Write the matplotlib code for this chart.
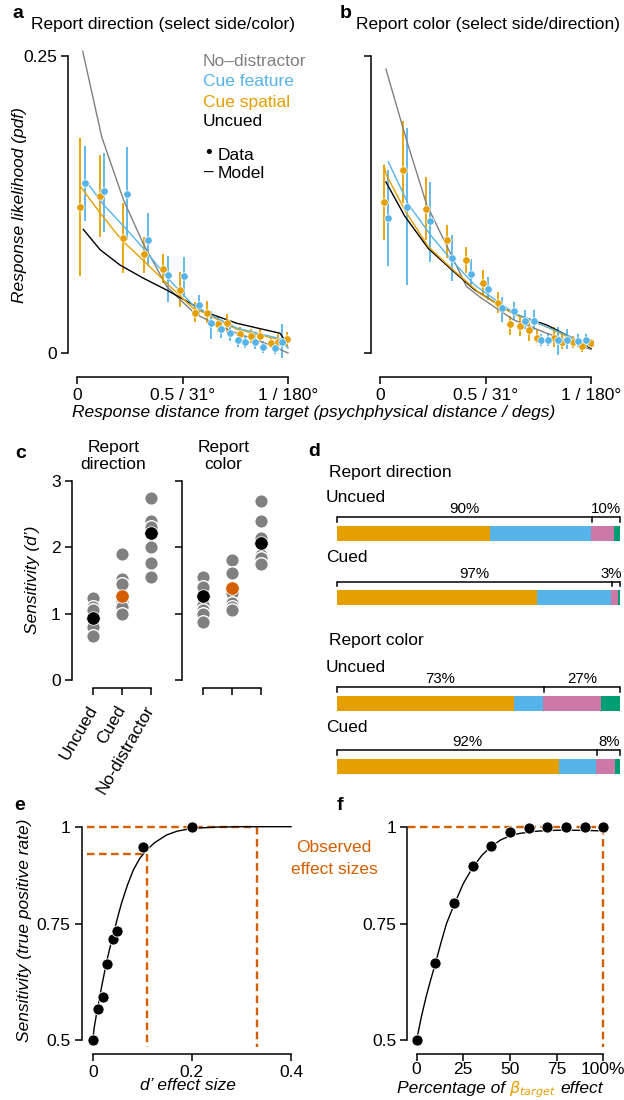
import numpy as np
import matplotlib
matplotlib.use("Agg")
import matplotlib.pyplot as plt

# ---------------- data ----------------
# panel a (report direction)
a_sp_x = [0.016, 0.107, 0.216, 0.318, 0.408, 0.49, 0.559, 0.615, 0.667, 0.709, 0.774, 0.823, 0.866, 0.918, 0.953, 0.997]
a_sp_y = [0.123, 0.132, 0.097, 0.083, 0.071, 0.053, 0.034, 0.034, 0.024, 0.025, 0.016, 0.014, 0.014, 0.008, 0.0095, 0.012]
a_sp_lo = [0.065, 0.098, 0.067, 0.067, 0.059, 0.039, 0.026, 0.025, 0.018, 0.018, 0.010, 0.008, 0.009, 0.004, 0.003, 0.006]
a_sp_hi = [0.181, 0.167, 0.126, 0.098, 0.083, 0.068, 0.043, 0.044, 0.031, 0.033, 0.022, 0.020, 0.020, 0.013, 0.016, 0.018]
a_ft_x = [0.038, 0.129, 0.235, 0.338, 0.43, 0.506, 0.578, 0.634, 0.684, 0.727, 0.763, 0.795, 0.845, 0.883, 0.937, 0.973]
a_ft_y = [0.143, 0.136, 0.134, 0.095, 0.066, 0.065, 0.040, 0.025, 0.020, 0.017, 0.011, 0.0095, 0.0095, 0.005, 0.004, 0.009]
a_ft_lo = [0.111, 0.102, 0.095, 0.073, 0.043, 0.047, 0.031, 0.012, 0.013, 0.010, 0.005, 0.004, 0.003, 0.0, -0.001, -0.004]
a_ft_hi = [0.174, 0.168, 0.173, 0.118, 0.082, 0.081, 0.049, 0.035, 0.027, 0.024, 0.017, 0.015, 0.016, 0.010, 0.010, 0.024]
a_mod_nd_x = [0.027, 0.117, 0.22, 0.314, 0.425, 0.488, 0.56, 0.66, 0.757, 0.85, 0.915, 1.0]
a_mod_nd_y = [0.254, 0.182, 0.129, 0.092, 0.056, 0.045, 0.033, 0.024, 0.0166, 0.011, 0.0067, 0.0]
a_mod_un_x = [0.03, 0.109, 0.204, 0.314, 0.425, 0.536, 0.6, 0.757, 0.962, 0.99]
a_mod_un_y = [0.104, 0.087, 0.074, 0.063, 0.053, 0.042, 0.035, 0.025, 0.0166, 0.0095]
a_mod_sp_x = [0.017, 0.109, 0.212, 0.314, 0.425, 0.551, 0.6, 0.757, 0.962, 1.0]
a_mod_sp_y = [0.140, 0.118, 0.095, 0.078, 0.0587, 0.0376, 0.034, 0.02, 0.011, 0.005]
a_mod_ft_x = [0.058, 0.125, 0.235, 0.33, 0.425, 0.551, 0.6, 0.757, 0.962, 1.0]
a_mod_ft_y = [0.141, 0.125, 0.104, 0.085, 0.064, 0.040, 0.035, 0.021, 0.012, 0.004]

# panel b (report color)
b_sp_x = [0.019, 0.11, 0.216, 0.318, 0.409, 0.488, 0.558, 0.616, 0.665, 0.708, 0.746, 0.826, 0.864, 0.916, 0.956, 1.0]
b_sp_y = [0.127, 0.154, 0.1215, 0.095, 0.0786, 0.059, 0.042, 0.0244, 0.023, 0.019, 0.013, 0.013, 0.0095, 0.009, 0.006, 0.008]
b_sp_lo = [0.095, 0.126, 0.095, 0.080, 0.067, 0.050, 0.034, 0.015, 0.014, 0.010, 0.008, 0.005, 0.003, 0.004, 0.001, 0.004]
b_sp_hi = [0.158, 0.195, 0.148, 0.108, 0.089, 0.070, 0.051, 0.031, 0.031, 0.027, 0.019, 0.022, 0.016, 0.014, 0.011, 0.012]
b_ft_x = [0.039, 0.130, 0.237, 0.340, 0.431, 0.51, 0.576, 0.636, 0.685, 0.728, 0.763, 0.796, 0.845, 0.884, 0.938, 0.975]
b_ft_y = [0.114, 0.123, 0.111, 0.080, 0.0668, 0.054, 0.0376, 0.035, 0.027, 0.027, 0.0107, 0.0107, 0.011, 0.011, 0.0104, 0.011]
b_ft_lo = [0.073, 0.057, 0.077, 0.061, 0.057, 0.045, 0.026, 0.028, 0.020, 0.019, 0.006, 0.006, -0.002, 0.003, 0.005, 0.006]
b_ft_hi = [0.154, 0.189, 0.144, 0.099, 0.079, 0.064, 0.047, 0.043, 0.036, 0.036, 0.016, 0.016, 0.022, 0.020, 0.016, 0.016]
b_mod_nd_x = [0.028, 0.126, 0.221, 0.41, 0.474, 0.632, 0.79, 0.9, 1.0]
b_mod_nd_y = [0.239, 0.179, 0.125, 0.056, 0.047, 0.028, 0.0166, 0.010, 0.003]
b_mod_un_x = [0.028, 0.118, 0.229, 0.34, 0.45, 0.632, 0.79, 0.885, 1.0]
b_mod_un_y = [0.144, 0.115, 0.088, 0.070, 0.053, 0.033, 0.0236, 0.015, 0.004]
b_mod_sp_x = [0.019, 0.03, 0.118, 0.229, 0.34, 0.474, 0.632, 0.79, 0.885, 1.0]
b_mod_sp_y = [0.158, 0.150, 0.120, 0.0895, 0.071, 0.050, 0.033, 0.022, 0.014, 0.005]
b_mod_ft_x = [0.039, 0.135, 0.245, 0.34, 0.45, 0.632, 0.79, 0.885, 1.0]
b_mod_ft_y = [0.161, 0.125, 0.098, 0.078, 0.057, 0.034, 0.022, 0.015, 0.005]

ab_xticks = [0, 0.5, 1]
ab_xticklabels = ["0", "0.5 / 31\u00b0", "1 / 180\u00b0"]

# panel c (d')
c_conditions = ["Uncued", "Cued", "No-distractor"]
c_dir_subjects = [[1.23, 1.10, 1.05, 0.80, 0.66],
                  [1.90, 1.53, 1.45, 1.18, 1.10, 1.00],
                  [2.74, 2.40, 2.31, 2.00, 1.77, 1.56]]
c_dir_means = [0.93, 1.27, 2.21]
c_col_subjects = [[1.55, 1.40, 1.13, 1.06, 1.00, 0.87],
                  [1.81, 1.61, 1.31, 1.16, 1.10, 1.05],
                  [2.70, 2.40, 2.14, 1.88, 1.84, 1.75]]
c_col_means = [1.27, 1.39, 2.06]

# panel d (stacked proportions, %)
d_rows = ["Uncued", "Cued", "Uncued", "Cued"]
d_orange = [54.0, 70.7, 62.5, 78.6]
d_blue = [35.8, 26.1, 10.3, 12.9]
d_pink = [8.1, 2.4, 20.5, 6.8]
d_green = [2.1, 0.8, 6.7, 1.7]
d_split = [90, 97, 73, 92]

# panel e
e_dprime = [0, 0.010, 0.0215, 0.0296, 0.0403, 0.0497, 0.1008, 0.1997]
e_sens = [0.5, 0.556, 0.582, 0.655, 0.714, 0.734, 0.946, 1.0]
e_fit_x = [0, 0.003, 0.008, 0.013, 0.018, 0.023, 0.028, 0.035, 0.042, 0.05, 0.058, 0.07,
           0.082, 0.095, 0.109, 0.125, 0.149, 0.17, 0.2, 0.25, 0.3, 0.4]
e_fit_y = [0.5, 0.52, 0.548, 0.575, 0.604, 0.632, 0.661, 0.695, 0.728, 0.766, 0.802, 0.848,
           0.887, 0.917, 0.939, 0.958, 0.978, 0.988, 0.9955, 0.999, 1.0, 1.0]
e_obs_d = [0.109, 0.331]
e_obs_sens = [0.928, 1.0]

# panel f
f_pct = [0, 10, 20, 30, 40, 50, 60, 70, 80, 90, 100]
f_sens = [0.5, 0.659, 0.802, 0.898, 0.950, 0.985, 0.996, 1.0, 1.0, 1.0, 1.0]
f_fit_x = [0, 2.5, 5, 7.5, 10, 13, 16, 20, 25, 30, 35, 40, 45, 50, 55, 62, 70, 80, 90, 100]
f_fit_y = [0.5, 0.54, 0.581, 0.619, 0.656, 0.705, 0.752, 0.798, 0.852, 0.893, 0.925, 0.948,
           0.965, 0.976, 0.982, 0.987, 0.99, 0.991, 0.99, 0.989]
f_obs_pct = [100]
f_obs_sens = [1.0]

# ---------------- style ----------------
ORANGE = "#E69F00"
BLUE = "#56B4E9"
PINK = "#CC79A7"
GREEN = "#009E73"
DORANGE = "#D55E00"
GRAY = "#808080"

plt.rcParams["font.family"] = ["Liberation Sans", "DejaVu Sans"]
plt.rcParams["font.size"] = 12.5
plt.rcParams["axes.linewidth"] = 1.1
plt.rcParams["mathtext.default"] = "it"
for k in ("xtick", "ytick"):
    plt.rcParams[k + ".major.size"] = 5
    plt.rcParams[k + ".major.width"] = 1.1
    plt.rcParams[k + ".major.pad"] = 3
    plt.rcParams[k + ".labelsize"] = 12.5

W, H = 624, 1100
fig = plt.figure(figsize=(W / 100, H / 100), dpi=100)


def ax_px(left, top, width, height):
    return fig.add_axes([left / W, 1 - (top + height) / H, width / W, height / H])


def ftext(x, y, s, **kw):
    return fig.text(x / W, 1 - y / H, s, **kw)


def clean(ax, xb, yb, xoff, yoff):
    for s in ("top", "right"):
        ax.spines[s].set_visible(False)
    ax.spines["bottom"].set_position(("outward", xoff))
    ax.spines["left"].set_position(("outward", yoff))
    ax.spines["bottom"].set_bounds(*xb)
    ax.spines["left"].set_bounds(*yb)


# ---------------- panels a, b ----------------
def curve_panel(ax, sp, ft, mods, ylabels):
    ax.set_xlim(-0.01, 1.01)
    ax.set_ylim(-0.006, 0.256)
    clean(ax, (0, 1), (0, 0.25), 12, 5)
    ax.vlines(sp[0], sp[2], sp[3], color=ORANGE, lw=1.3, zorder=2)
    ax.vlines(ft[0], ft[2], ft[3], color=BLUE, lw=1.3, zorder=2)
    for (mx, my, c) in mods:
        ax.plot(mx, my, color=c, lw=1.0, zorder=3, clip_on=False)
    ax.plot(sp[0], sp[1], "o", color=ORANGE, ms=5.4, mec="white", mew=0.5, zorder=4)
    ax.plot(ft[0], ft[1], "o", color=BLUE, ms=5.4, mec="white", mew=0.5, zorder=4)
    ax.set_xticks(ab_xticks)
    ax.set_xticklabels(ab_xticklabels)
    ax.set_yticks([0, 0.25])
    if ylabels:
        ax.set_yticklabels(["0", "0.25"])
    else:
        ax.set_yticklabels([])


axa = ax_px(74.9, 48.9, 215.2, 311.2)
curve_panel(axa, (a_sp_x, a_sp_y, a_sp_lo, a_sp_hi), (a_ft_x, a_ft_y, a_ft_lo, a_ft_hi),
            [(a_mod_nd_x, a_mod_nd_y, GRAY), (a_mod_un_x, a_mod_un_y, "black"),
             (a_mod_sp_x, a_mod_sp_y, ORANGE), (a_mod_ft_x, a_mod_ft_y, BLUE)], True)
axb = ax_px(377.9, 48.9, 215.2, 311.2)
curve_panel(axb, (b_sp_x, b_sp_y, b_sp_lo, b_sp_hi), (b_ft_x, b_ft_y, b_ft_lo, b_ft_hi),
            [(b_mod_nd_x, b_mod_nd_y, GRAY), (b_mod_un_x, b_mod_un_y, "black"),
             (b_mod_sp_x, b_mod_sp_y, ORANGE), (b_mod_ft_x, b_mod_ft_y, BLUE)], False)

ftext(18, 14, "a", fontweight="bold", fontsize=14, ha="center", va="center")
ftext(31, 25, "Report direction (select side/color)", va="center", ha="left")
ftext(346, 14, "b", fontweight="bold", fontsize=14, ha="center", va="center")
ftext(356, 25, "Report color (select side/direction)", va="center", ha="left")
ftext(20, 205, "Response likelihood (pdf)", rotation=90, style="italic", ha="center", va="center")
ftext(314, 412, "Response distance from target (psychphysical distance / degs)",
      style="italic", ha="center", va="center")

for yy, s, c in [(62, "No\u2013distractor", GRAY), (82, "Cue feature", BLUE),
                 (102, "Cue spatial", ORANGE), (122, "Uncued", "black")]:
    ftext(203, yy, s, color=c, va="center", ha="left")
ftext(209, 154, "\u2022", ha="center", va="center", fontsize=14)
ftext(218, 155, "Data", va="center", ha="left")
ftext(209, 172, "\u2013", ha="center", va="center")
ftext(218, 173, "Model", va="center", ha="left")

# ---------------- panel c ----------------
def dot_panel(ax, subjects, means, show_labels):
    ax.set_xlim(0.25, 3.3)
    ax.set_ylim(0, 3.05)
    clean(ax, (1, 3), (0, 3), 6, 0)
    mean_cols = ["black", DORANGE, "black"]
    for i, vals in enumerate(subjects):
        ax.scatter([i + 1] * len(vals), vals, s=95, color=GRAY, edgecolor="white",
                   linewidth=1.0, zorder=3, clip_on=False)
        ax.scatter([i + 1], [means[i]], s=95, color=mean_cols[i], edgecolor="white",
                   linewidth=0.6, zorder=4, clip_on=False)
    ax.set_xticks([1, 2, 3])
    ax.set_yticks([0, 1, 2, 3])
    if show_labels:
        ax.set_xticklabels(c_conditions, rotation=60, ha="right", va="center",
                           rotation_mode="anchor")
        ax.tick_params(axis="x", pad=8)
    else:
        ax.set_xticklabels([])
        ax.set_yticklabels([])


axc1 = ax_px(71.8, 477.7, 87.5, 202.3)
dot_panel(axc1, c_dir_subjects, c_dir_means, True)
axc2 = ax_px(181.8, 477.7, 87.5, 202.3)
dot_panel(axc2, c_col_subjects, c_col_means, False)
ftext(21, 453, "c", fontweight="bold", fontsize=14, ha="center", va="center")
ftext(113.3, 456, "Report\ndirection", ha="center", va="center", linespacing=1.15)
ftext(223.3, 456, "Report\ncolor", ha="center", va="center", linespacing=1.15)
ftext(33, 580, "Sensitivity (d\u2019)", rotation=90, style="italic", ha="center", va="center")

# ---------------- panel d ----------------
axd = ax_px(336.7, 460, 283.3, 320)
axd.set_xlim(0, 100)
axd.set_ylim(780, 460)
axd.axis("off")
bar_y = [533.3, 597.5, 703.3, 766.2]
bar_h = 14.7
row_label_y = [498, 558, 667, 727]
for i in range(4):
    left = 0
    for vals, col in ((d_orange, ORANGE), (d_blue, BLUE), (d_pink, PINK), (d_green, GREEN)):
        axd.barh(bar_y[i], vals[i], left=left, height=bar_h, color=col, linewidth=0)
        left += vals[i]
    by = bar_y[i] - 16
    axd.plot([0, 100], [by, by], color="black", lw=1.1, solid_capstyle="butt", clip_on=False)
    for xv in (0, d_split[i], 100):
        axd.plot([xv, xv], [by, by + 4.5], color="black", lw=1.1, clip_on=False)
    axd.text(d_split[i] / 2, by - 8, f"{d_split[i]}%", ha="center", va="center", fontsize=10.8)
    rc = min((d_split[i] + 100) / 2, 97.0)
    axd.text(rc, by - 8, f"{100 - d_split[i]}%", ha="center",
             va="center", fontsize=10.8, clip_on=False)
    axd.text(-3.9, row_label_y[i], d_rows[i], ha="left", va="center")
axd.text(-2.6, 472, "Report direction", ha="left", va="center")
axd.text(-2.6, 640, "Report color", ha="left", va="center")
ftext(314, 452, "d", fontweight="bold", fontsize=14, ha="center", va="center")

# ---------------- panels e, f ----------------
POW = 0.884


def fwd(v):
    v = np.asarray(v, dtype=float)
    t = (v - 0.5) / 0.5
    return np.sign(t) * np.abs(t) ** POW


def inv(u):
    u = np.asarray(u, dtype=float)
    return 0.5 + 0.5 * np.sign(u) * np.abs(u) ** (1 / POW)


dash = (0, (3.2, 1.9))

axe = ax_px(81.8, 824.8, 214.2, 221.9)
axe.set_yscale("function", functions=(fwd, inv))
axe.set_xlim(-0.022, 0.41)
axe.set_ylim(0.49, 1.005)
clean(axe, (0, 0.4), (0.5, 1), 5, 0)
axe.plot([-0.011, e_obs_d[1]], [e_obs_sens[1]] * 2, color=DORANGE, lw=1.7, ls=dash, zorder=1)
axe.plot([-0.011, e_obs_d[0]], [e_obs_sens[0]] * 2, color=DORANGE, lw=1.7, ls=dash, zorder=1)
for dv, sv in zip(e_obs_d, e_obs_sens):
    axe.plot([dv, dv], [sv, 0.49], color=DORANGE, lw=1.7, ls=dash, zorder=1)
axe.plot(e_fit_x, e_fit_y, color="black", lw=1.0, zorder=2)
axe.plot(e_dprime, e_sens, "o", color="black", ms=8, mec="white", mew=0.6, zorder=3, clip_on=False)
axe.set_xticks([0, 0.2, 0.4])
axe.set_xticklabels(["0", "0.2", "0.4"])
axe.set_yticks([0.5, 0.75, 1])
axe.set_yticklabels(["0.5", "0.75", "1"])
axe.yaxis.set_minor_locator(matplotlib.ticker.NullLocator())
ftext(20, 805, "e", fontweight="bold", fontsize=14, ha="center", va="center")
ftext(25, 930, "Sensitivity (true positive rate)", rotation=90, style="italic",
      ha="center", va="center")
ftext(188, 1086, "d\u2019 effect size", style="italic", ha="center", va="center")
ftext(334, 848, "Observed", color=DORANGE, ha="center", va="center")
ftext(334, 869, "effect sizes", color=DORANGE, ha="center", va="center")

axf = ax_px(407.3, 824.8, 201.6, 221.9)
axf.set_yscale("function", functions=(fwd, inv))
axf.set_xlim(-5, 103)
axf.set_ylim(0.49, 1.005)
clean(axf, (0, 100), (0.5, 1), 5, 0)
axf.plot([-4.5, f_obs_pct[0]], [f_obs_sens[0]] * 2, color=DORANGE, lw=1.7, ls=dash, zorder=1)
axf.plot([f_obs_pct[0], f_obs_pct[0]], [f_obs_sens[0], 0.49], color=DORANGE, lw=1.7, ls=dash, zorder=1)
axf.plot(f_fit_x, f_fit_y, color="black", lw=1.0, zorder=2)
axf.plot(f_pct, f_sens, "o", color="black", ms=8, mec="white", mew=0.6, zorder=3, clip_on=False)
axf.set_xticks([0, 25, 50, 75, 100])
axf.set_xticklabels(["0", "25", "50", "75", "100%"])
axf.set_yticks([0.5, 0.75, 1])
axf.set_yticklabels(["0.5", "0.75", "1"])
axf.yaxis.set_minor_locator(matplotlib.ticker.NullLocator())
axf.tick_params(axis="x", pad=1)
ftext(340, 805, "f", fontweight="bold", fontsize=14, ha="center", va="center")

# multi-coloured x label for f
fig.canvas.draw()
r = fig.canvas.get_renderer()
pieces = [("Percentage of", "black", 12.5), (r"$\beta_{target}$", ORANGE, 11.5), ("effect", "black", 12.5)]
arts = []
for s, c, fs in pieces:
    t = fig.text(0, 0, s, color=c, style="italic", va="baseline", ha="left", fontsize=fs)
    arts.append(t)
gap = 4
widths = [a.get_window_extent(r).width for a in arts]
total = sum(widths) + gap * (len(arts) - 1)
start = 500 - total / 2
for a, w in zip(arts, widths):
    a.set_x(start / W)
    a.set_y(1 - 1093 / H)
    start += w + gap

fig.savefig("out.png", dpi=100)
